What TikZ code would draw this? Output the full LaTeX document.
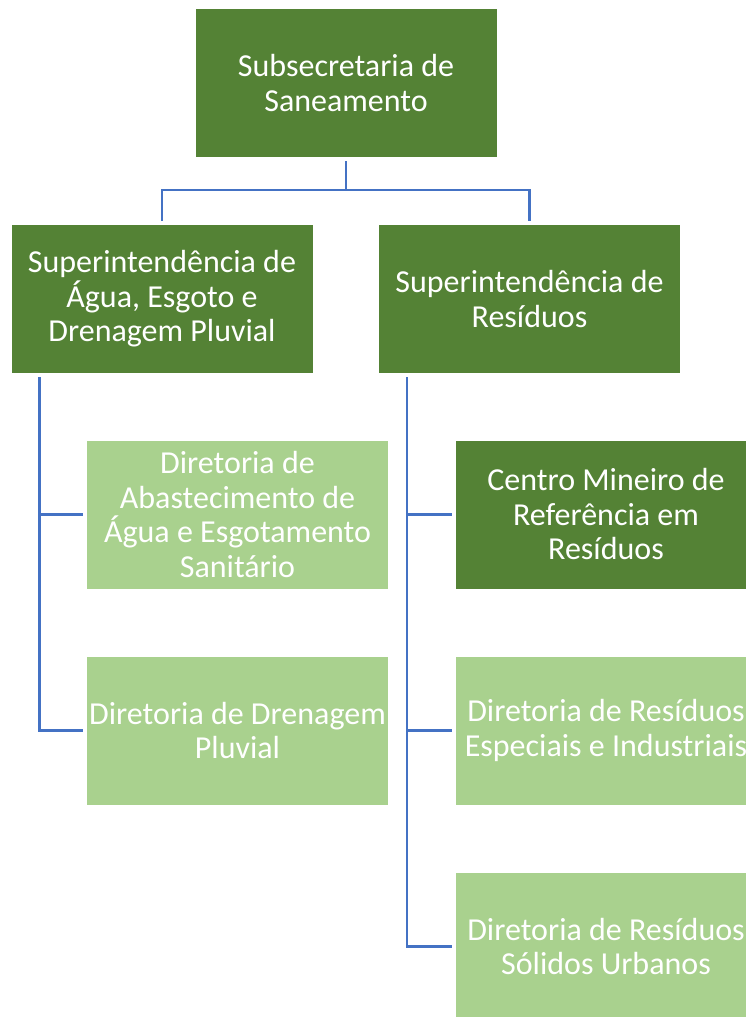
\documentclass[tikz,border=0pt]{standalone}
\usepackage{fontspec}
\setmainfont{Carlito}
\definecolor{darkgreen}{HTML}{548235}
\definecolor{lightgreen}{HTML}{A9D18E}
\definecolor{linkblue}{HTML}{4472C4}
\tikzset{
  unit/.style={draw=white,line width=1pt,fill=darkgreen,text=white,align=center,
    minimum width=302pt,minimum height=149pt,inner sep=0pt,
    font=\fontsize{32}{34.5}\selectfont},
  subunit/.style={unit,fill=lightgreen},
  conn/.style={linkblue,line width=2.8pt,shorten <=3pt,shorten >=3pt}
}
\begin{document}
\begin{tikzpicture}[x=1pt,y=-1pt]
  \useasboundingbox (0,0) rectangle (746,1017);

  % Boxes
  \node[unit] (sub) at (346,83) {Subsecretaria de\\Saneamento};
  \node[unit] (supA) at (162,299) {Superintendência de\\Água, Esgoto e\\Drenagem Pluvial};
  \node[unit] (supR) at (529.5,299) {Superintendência de\\Resíduos};

  \node[subunit] (dirAE) at (237.5,514.5) {Diretoria de\\Abastecimento de\\Água e Esgotamento\\Sanitário};
  \node[subunit] (dirDP) at (237.5,730.5) {Diretoria de Drenagem\\Pluvial};

  \node[unit] (centro) at (606,514.5) {Centro Mineiro de\\Referência em\\Resíduos};
  \node[subunit] (dirEI) at (606,730.5) {Diretoria de Resíduos\\Especiais e Industriais};
  \node[subunit] (dirSU) at (606,946.5) {Diretoria de Resíduos\\Sólidos Urbanos};

  % Connectors from the top
  \draw[conn,shorten >=0pt] (sub.south) -- ++(0,32) coordinate (j);
  \draw[conn,shorten <=0pt] (j) -| (supA.north);
  \draw[conn,shorten <=0pt] (j) -| (supR.north);

  % Left branch
  \coordinate (spineA) at ([xshift=29pt]supA.south west);
  \draw[conn] (spineA) |- (dirAE.west);
  \draw[conn] (spineA) |- (dirDP.west);

  % Right branch
  \coordinate (spineR) at ([xshift=29pt]supR.south west);
  \draw[conn] (spineR) |- (centro.west);
  \draw[conn] (spineR) |- (dirEI.west);
  \draw[conn] (spineR) |- (dirSU.west);
\end{tikzpicture}
\end{document}
